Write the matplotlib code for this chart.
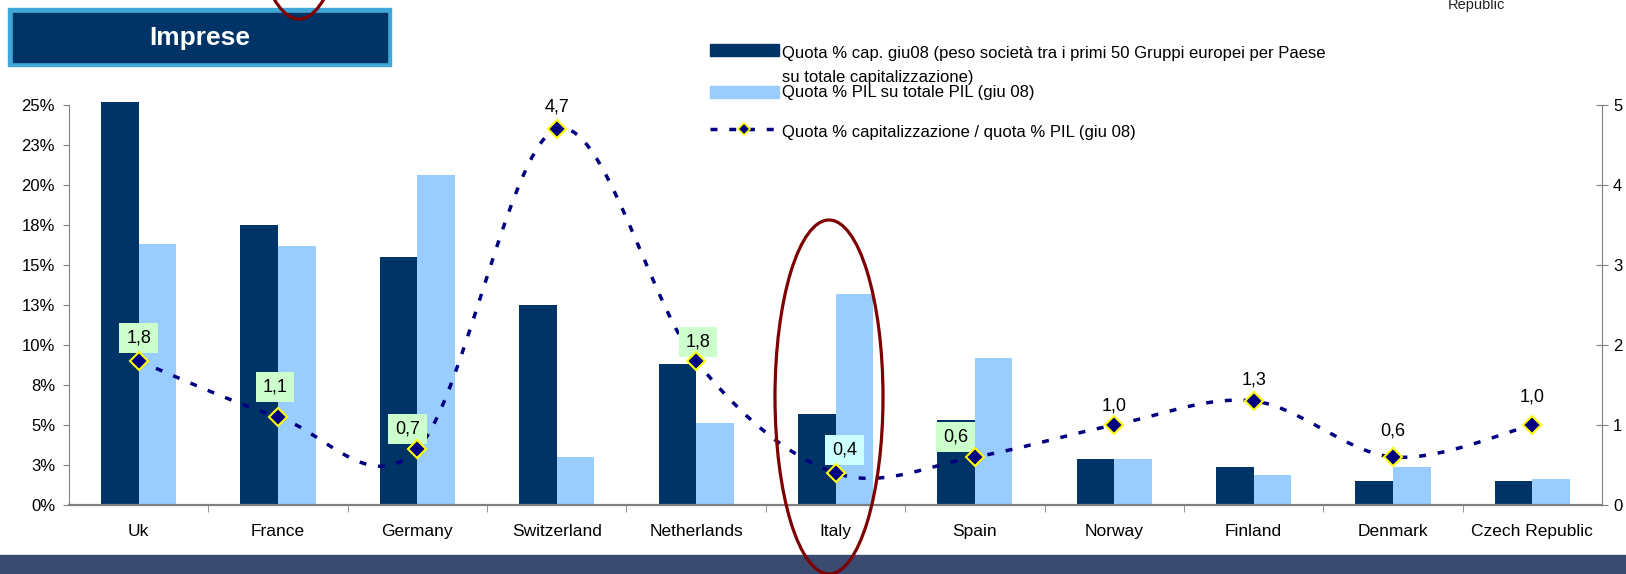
import matplotlib
matplotlib.use("Agg")
import matplotlib.pyplot as plt
import numpy as np
from matplotlib.lines import Line2D
from matplotlib.patches import Ellipse, Rectangle

plt.rcParams["font.family"] = ["Liberation Sans", "DejaVu Sans"]

# Data
countries = ["Uk", "France", "Germany", "Switzerland", "Netherlands", "Italy",
             "Spain", "Norway", "Finland", "Denmark", "Czech Republic"]
cap_share = [25.2, 17.5, 15.5, 12.5, 8.8, 5.7, 5.3, 2.9, 2.4, 1.5, 1.5]
gdp_share = [16.3, 16.2, 20.6, 3.0, 5.1, 13.2, 9.2, 2.9, 1.9, 2.4, 1.6]
ratio = [1.8, 1.1, 0.7, 4.7, 1.8, 0.4, 0.6, 1.0, 1.3, 0.6, 1.0]
ratio_labels = ["1,8", "1,1", "0,7", "4,7", "1,8", "0,4", "0,6", "1,0", "1,3", "0,6", "1,0"]
label_bg = ["#CCFFCC", "#CCFFCC", "#CCFFCC", None, "#CCFFCC", "#CCFFFF",
            "#CCFFCC", None, None, None, None]
# label offsets from the marker, in pixels
label_dx = [0, -3, -10, 0, 2, 9, -19, 0, 0, 0, 0]
label_dy = [23, 30, 20, 22, 19, 23, 20, 19, 21, 26, 28]

left_ticks = [0, 2.5, 5, 7.5, 10, 12.5, 15, 17.5, 20, 22.5, 25]
left_labels = ["0%", "3%", "5%", "8%", "10%", "13%", "15%", "18%", "20%", "23%", "25%"]
right_ticks = [0, 1, 2, 3, 4, 5]

DARK = "#003366"
LIGHT = "#99CCFF"
LINE = "#000080"
GREY = "#808080"

W, H = 1626, 574


def fx(px):
    return px / W


def fy(py):
    return 1 - py / H


def smooth(xs, ys, n=40):
    """Bezier smoothing through every point (Catmull-Rom style)."""
    pts = np.column_stack([xs, ys]).astype(float)
    out = []
    for i in range(len(pts) - 1):
        p0 = pts[max(i - 1, 0)]
        p1 = pts[i]
        p2 = pts[i + 1]
        p3 = pts[min(i + 2, len(pts) - 1)]
        c1 = p1 + (p2 - p0) / 6
        c2 = p2 - (p3 - p1) / 6
        t = np.linspace(0, 1, n)[:, None]
        seg = (1 - t) ** 3 * p1 + 3 * (1 - t) ** 2 * t * c1 + 3 * (1 - t) * t ** 2 * c2 + t ** 3 * p2
        out.append(seg if i == 0 else seg[1:])
    return np.vstack(out)


fig = plt.figure(figsize=(W / 100, H / 100), dpi=100)
ax = fig.add_axes([fx(69), fy(505), fx(1602) - fx(69), fy(105) - fy(505)])
ax2 = ax.twinx()

x = np.arange(len(countries))
w = 0.27
ax.bar(x - w / 2, cap_share, w, color=DARK, clip_on=False, zorder=2)
ax.bar(x + w / 2, gdp_share, w, color=LIGHT, clip_on=False, zorder=2)

ax.set_xlim(-0.5, len(countries) - 0.5)
ax.set_ylim(0, 25)
ax.set_yticks(left_ticks, left_labels)
ax.set_xticks(x, countries)
ax.set_xticks(np.arange(0.5, len(countries) - 1, 1), minor=True)
ax.tick_params(axis="y", direction="out", length=4, color=GREY, labelsize=12, pad=6)
ax.tick_params(axis="x", which="major", length=0, labelsize=12.5, pad=14)
ax.tick_params(axis="x", which="minor", direction="out", length=5, color=GREY)
for side in ["top", "right"]:
    ax.spines[side].set_visible(False)
ax.spines["left"].set_color(GREY)
ax.spines["bottom"].set_color(GREY)
ax.spines["bottom"].set_linewidth(1.6)
ax.spines["bottom"].set_zorder(3)

# ratio line on the secondary axis
curve = smooth(x, ratio)
ax2.plot(curve[:, 0], curve[:, 1], color=LINE, lw=2.5, linestyle=(0, (2, 3.4)),
         dash_capstyle="butt")
ax2.plot(x, ratio, linestyle="none", marker="D", ms=9, mfc=LINE, mec="#FFFF00", mew=1.5,
         zorder=4)
for xi, yi, txt, bg, dx, dy in zip(x, ratio, ratio_labels, label_bg, label_dx, label_dy):
    box = dict(boxstyle="square,pad=0.38", fc=bg, ec="none") if bg else None
    ax2.annotate(txt, (xi, yi), xytext=(dx, dy), textcoords="offset pixels",
                 ha="center", va="center", fontsize=13, bbox=box, zorder=3)

ax2.set_ylim(0, 5)
ax2.set_yticks(right_ticks)
ax2.tick_params(axis="y", direction="inout", length=8, color=GREY, labelsize=12, pad=4)
for side in ["top", "left", "bottom"]:
    ax2.spines[side].set_visible(False)
ax2.spines["right"].set_color(GREY)

# legend
fig.add_artist(Rectangle((fx(710), fy(56)), fx(779) - fx(710), 12 / H, color=DARK,
                         transform=fig.transFigure))
fig.text(fx(782), fy(58), "Quota % cap. giu08 (peso società tra i primi 50 Gruppi europei per Paese",
         fontsize=12, va="baseline")
fig.text(fx(782), fy(82), "su totale capitalizzazione)", fontsize=12, va="baseline")
fig.add_artist(Rectangle((fx(710), fy(98)), fx(779) - fx(710), 12 / H, color=LIGHT,
                         transform=fig.transFigure))
fig.text(fx(782), fy(97), "Quota % PIL su totale PIL (giu 08)", fontsize=12, va="baseline")
fig.add_artist(Line2D([fx(710), fx(779)], [fy(129), fy(129)], color=LINE, lw=2.5,
                      linestyle=(0, (2, 3.4)), transform=fig.transFigure))
fig.add_artist(Line2D([fx(744)], [fy(129)], marker="D", ms=6, mfc=LINE, mec="#FFFF00",
                      mew=1.2, transform=fig.transFigure))
fig.text(fx(782), fy(137), "Quota % capitalizzazione / quota % PIL (giu 08)",
         fontsize=12, va="baseline")

# title box
fig.add_artist(Rectangle((fx(8), fy(66)), fx(391) - fx(8), 58 / H, color="#41A7D9",
                         transform=fig.transFigure))
fig.add_artist(Rectangle((fx(13), fy(62)), fx(387) - fx(13), 49 / H, color=DARK,
                         transform=fig.transFigure))
fig.text(fx(200), fy(38), "Imprese", color="white", fontsize=19, fontweight="bold",
         ha="center", va="center")

fig.text(fx(1448), fy(9), "Republic", fontsize=10.5, va="baseline", color="#222222")

# footer band
fig.add_artist(Rectangle((0, 0), 1, 19 / H, color="#3B4A6F", transform=fig.transFigure))

# highlight ellipses
fig.add_artist(Ellipse((fx(829), fy(397)), 108 / W, 354 / H, fill=False, ec="#7F0000",
                       lw=2.3, transform=fig.transFigure))
fig.add_artist(Ellipse((fx(299), fy(-158)), 108 / W, 354 / H, fill=False, ec="#7F0000",
                       lw=2.3, transform=fig.transFigure))

fig.savefig("out.png", dpi=100)
